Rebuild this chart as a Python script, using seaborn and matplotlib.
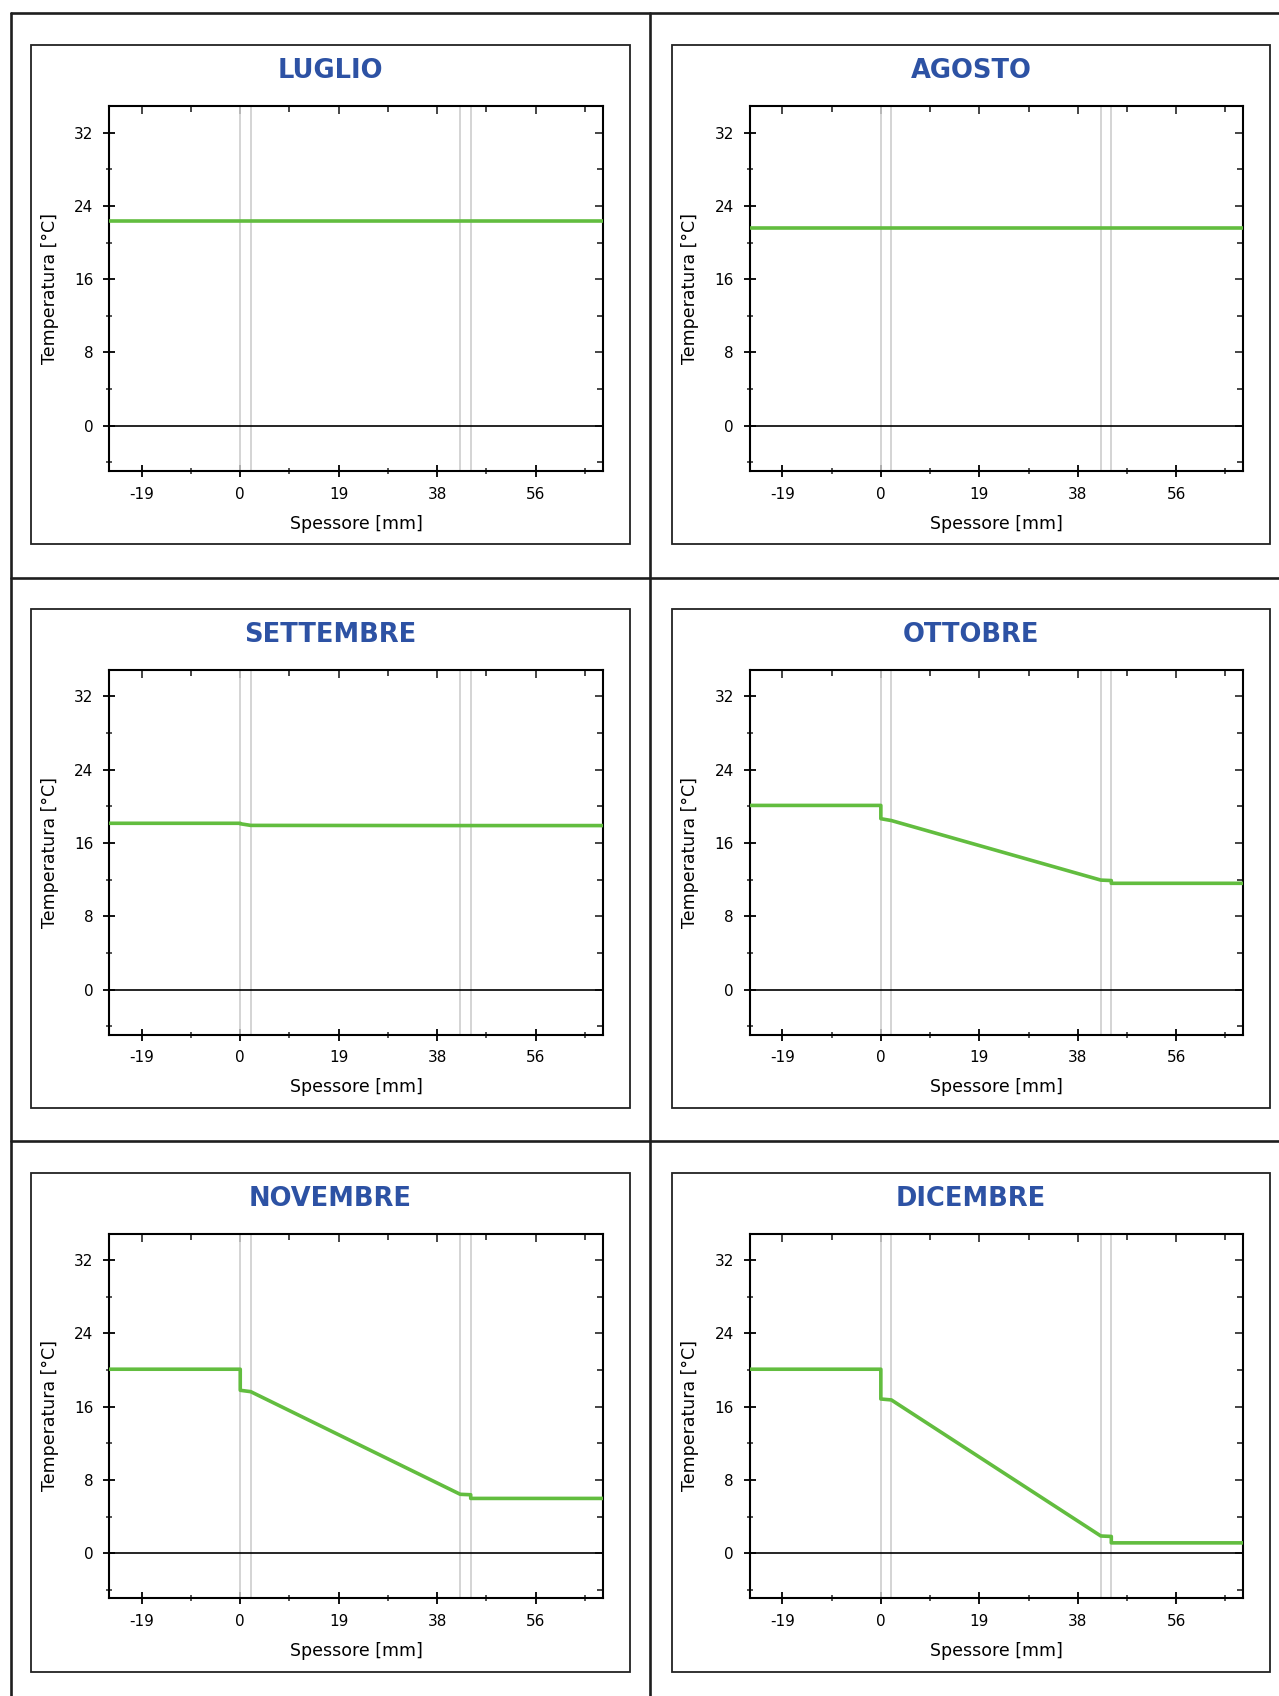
import matplotlib
matplotlib.use('Agg')
import matplotlib.pyplot as plt
import seaborn as sns
from matplotlib.lines import Line2D
from matplotlib.patches import Rectangle

sns.set_style('white')
plt.rcParams['font.family'] = ['DejaVu Sans']

# dimensioni immagine in pixel
W, H = 1279, 1696

# dati
mesi = ['LUGLIO', 'AGOSTO', 'SETTEMBRE', 'OTTOBRE', 'NOVEMBRE', 'DICEMBRE']
spessore = [-25.0, 0.0, 0.0, 2.0, 42.0, 44.0, 44.0, 69.2]
strati = [0.0, 2.0, 42.0, 44.0]

temp_luglio = [22.3, 22.3, 22.3, 22.3, 22.3, 22.3, 22.3, 22.3]
temp_agosto = [21.6, 21.6, 21.6, 21.6, 21.6, 21.6, 21.6, 21.6]
temp_settembre = [18.15, 18.15, 18.1, 17.92, 17.9, 17.9, 17.9, 17.9]
temp_ottobre = [20.1, 20.1, 18.65, 18.45, 11.95, 11.9, 11.6, 11.6]
temp_novembre = [20.1, 20.1, 17.8, 17.65, 6.45, 6.4, 6.0, 6.0]
temp_dicembre = [20.1, 20.1, 16.85, 16.75, 1.9, 1.85, 1.15, 1.15]

temperature = [temp_luglio, temp_agosto, temp_settembre,
               temp_ottobre, temp_novembre, temp_dicembre]

x_ticks = [-18.8, 0.0, 18.8, 37.6, 56.4]
x_ticklabels = ['-19', '0', '19', '38', '56']
x_minor = [-9.4, 9.4, 28.2, 47.0, 65.8]
y_ticks = [0, 8, 16, 24, 32]
y_minor = [-4, 4, 12, 20, 28]

#colori
verde = '#62bd3f'
blu = '#2d52a4'
grigio = '#cdcdcd'

fig = plt.figure(figsize=(W / 100, H / 100), dpi=100)


def fx(x):
    return x / W


def fy(y):
    return 1 - y / H


def box(x0, y0, x1, y1):
    return [x0 / W, 1 - y1 / H, (x1 - x0) / W, (y1 - y0) / H]


# griglia della tabella
lw_tab = 1.9
col_tab = '#1e1e1e'
for yy in [13, 578, 1140.5]:
    fig.add_artist(Line2D([fx(10.8), 1], [fy(yy), fy(yy)], color=col_tab, lw=lw_tab))
for xx in [10.8, 650]:
    fig.add_artist(Line2D([fx(xx), fx(xx)], [fy(13), 0], color=col_tab, lw=lw_tab))

dx, dy = 640.6, 563.8

for i, (mese, temp) in enumerate(zip(mesi, temperature)):
    r, c = i // 2, i % 2
    ox, oy = dx * c, dy * r

    # cornice del grafico
    fig.add_artist(Rectangle((fx(31.4 + ox), fy(544.3 + oy)),
                             (629.8 - 31.4) / W, (544.3 - 45.4) / H,
                             transform=fig.transFigure, fill=False,
                             edgecolor='#222222', lw=1.3))
    fig.text(fx((31.4 + 629.8) / 2 + ox), fy(71 + oy), mese, ha='center', va='center',
             fontsize=18.5, fontweight='bold', color=blu)

    ax = fig.add_axes(box(109.3 + ox, 106 + oy, 602.7 + ox, 470.7 + oy))

    for s in strati:
        ax.axvline(s, color=grigio, lw=1.2, zorder=1)
    ax.axhline(0, color='black', lw=1.2, zorder=2)

    sns.lineplot(x=spessore, y=temp, sort=False, estimator=None,
                 color=verde, lw=2.6, ax=ax, zorder=3)

    ax.set_xlim(-25.0, 69.2)
    ax.set_ylim(-4.9, 34.9)

    ax.set_xticks(x_ticks)
    ax.set_xticklabels(x_ticklabels)
    ax.set_xticks(x_minor, minor=True)
    ax.set_yticks(y_ticks)
    ax.set_yticks(y_minor, minor=True)

    ax.tick_params(which='major', direction='inout', length=9, width=1.3,
                   labelsize=11, pad=7, colors='black')
    ax.tick_params(which='minor', direction='inout', length=5, width=1.1)
    ax.tick_params(bottom=True, left=True, top=False, right=False)
    ax.tick_params(which='minor', bottom=True, left=True)

    sec_x = ax.secondary_xaxis('top')
    sec_x.set_xticks(x_ticks)
    sec_x.set_xticks(x_minor, minor=True)
    sec_x.tick_params(which='both', direction='in', labeltop=False, width=1.2)
    sec_x.tick_params(which='major', length=6)
    sec_x.tick_params(which='minor', length=4)
    sec_x.spines['top'].set_visible(False)

    sec_y = ax.secondary_yaxis('right')
    sec_y.set_yticks(y_ticks)
    sec_y.set_yticks(y_minor, minor=True)
    sec_y.tick_params(which='both', direction='in', labelright=False, width=1.2)
    sec_y.tick_params(which='major', length=6)
    sec_y.tick_params(which='minor', length=4)
    sec_y.spines['right'].set_visible(False)

    for sp in ax.spines.values():
        sp.set_color('black')
        sp.set_linewidth(1.5)

    ax.set_xlabel('Spessore [mm]', fontsize=12.5, color='black')
    ax.set_ylabel('Temperatura [°C]', fontsize=12.5, color='black')
    ax.xaxis.set_label_coords(0.5, -(523.7 - 470.7) / 364.7)
    ax.xaxis.label.set_va('center')
    ax.yaxis.set_label_coords(-(109.3 - 49.8) / 493.4, 0.5)
    ax.yaxis.label.set_va('center')

fig.savefig('out.png', dpi=100, facecolor='white')
